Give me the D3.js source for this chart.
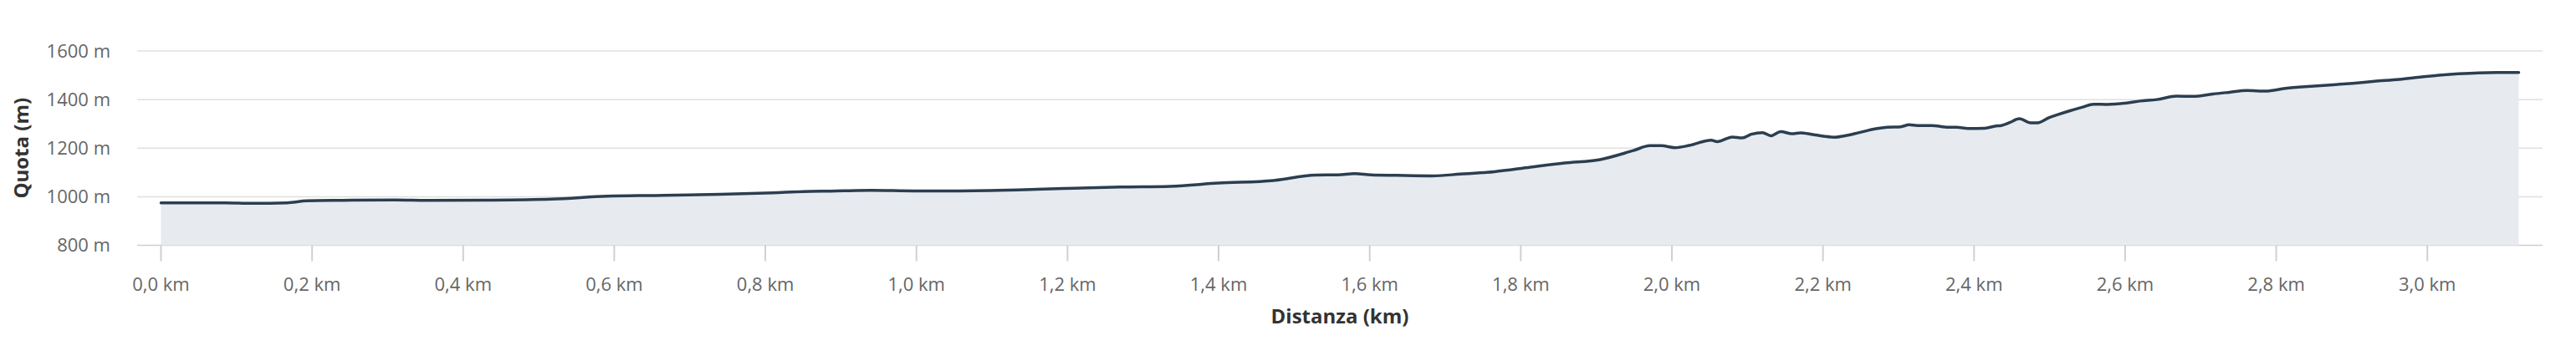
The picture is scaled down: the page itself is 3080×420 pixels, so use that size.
<!DOCTYPE html>
<html>
<head>
<meta charset="utf-8">
<script src="https://cdn.jsdelivr.net/npm/d3@7"></script>
<style>
  html, body { margin: 0; padding: 0; background: #fff; }
  svg { display: block; }
  text { font-family: "Open Sans", "Noto Sans", sans-serif; }
</style>
</head>
<body>
<svg id="chart" width="3080" height="420"></svg>
<script>
// Distance along the route (km)
const distanceKm = [
  0.000, 0.085, 0.120, 0.167, 0.193, 0.240, 0.310, 0.355, 0.430, 0.517,
  0.590, 0.665, 0.740, 0.810, 0.850, 0.886, 0.940, 0.997, 1.049,
  1.134, 1.196, 1.270, 1.336, 1.400, 1.473, 1.528, 1.558, 1.580,
  1.602, 1.636, 1.683, 1.720, 1.765, 1.813, 1.858, 1.905, 1.949, 1.971, 1.986,
  2.004, 2.023, 2.052, 2.060, 2.080, 2.093, 2.105, 2.120, 2.131, 2.144,
  2.159, 2.170, 2.185, 2.203, 2.216, 2.229, 2.248, 2.270, 2.285, 2.303,
  2.314, 2.325, 2.344, 2.366, 2.377, 2.392, 2.414, 2.429, 2.436, 2.447,
  2.460, 2.475, 2.484, 2.499, 2.510, 2.528, 2.543, 2.558, 2.576, 2.602,
  2.620, 2.642, 2.668, 2.690, 2.716, 2.738, 2.761, 2.786, 2.812, 2.842,
  2.871, 2.901, 2.930, 2.963, 2.993, 3.019, 3.041, 3.067, 3.092, 3.121
];
// Elevation (m)
const elevationM = [
  975, 975, 973, 975, 983, 985, 987, 985, 986, 990,
  1002, 1006, 1010, 1016, 1021, 1023, 1026, 1024, 1024,
  1028, 1034, 1040, 1043, 1056, 1067, 1089, 1090, 1095,
  1090, 1088, 1086, 1093, 1103, 1122, 1139, 1153, 1190, 1210, 1210,
  1202, 1211, 1233, 1227, 1246, 1242, 1257, 1264, 1251, 1268,
  1259, 1263, 1257, 1248, 1245, 1251, 1264, 1280, 1286, 1288,
  1296, 1293, 1293, 1286, 1286, 1281, 1282, 1291, 1293, 1305,
  1321, 1304, 1304, 1325, 1337, 1355, 1368, 1381, 1380, 1386,
  1394, 1400, 1414, 1413, 1423, 1430, 1437, 1435, 1446, 1454,
  1460, 1467, 1475, 1483, 1493, 1501, 1506, 1510, 1511, 1511
];
// Axis ticks
const yTicks = [800, 1000, 1200, 1400, 1600];
const xTicks = [0, 0.2, 0.4, 0.6, 0.8, 1.0, 1.2, 1.4, 1.6, 1.8, 2.0, 2.2, 2.4, 2.6, 2.8, 3.0];
const xTitle = "Distanza (km)";
const yTitle = "Quota (m)";

(function () {
  const data = distanceKm.map((d, i) => ({ x: d, y: elevationM[i] }));

  const svg = d3.select("#chart");
  const mLeft = 164, mRight = 3040, mTop = 61, mBottom = 293.5;
  const pad = (d3.max(distanceKm) - d3.min(distanceKm)) * 0.0101;

  const x = d3.scaleLinear()
    .domain([d3.min(distanceKm) - pad, d3.max(distanceKm) + pad])
    .range([mLeft, mRight]);
  const y = d3.scaleLinear().domain([800, 1600]).range([mBottom, mTop]);

  const fmtKm = d => d.toFixed(1).replace(".", ",") + " km";

  // horizontal grid
  svg.append("g").selectAll("line").data(yTicks).join("line")
    .attr("x1", mLeft).attr("x2", mRight)
    .attr("y1", d => y(d)).attr("y2", d => y(d))
    .attr("stroke", d => d === 800 ? "#cfcfcf" : "#e0e0e0")
    .attr("stroke-width", 1.5);

  // y tick labels
  svg.append("g").selectAll("text").data(yTicks).join("text")
    .attr("x", 132).attr("y", d => y(d)).attr("dy", "0.36em")
    .attr("text-anchor", "end")
    .attr("font-size", 22).attr("fill", "#666")
    .text(d => d + " m");

  // area + line
  const area = d3.area().x(d => x(d.x)).y0(y(800)).y1(d => y(d.y)).curve(d3.curveMonotoneX);
  const line = d3.line().x(d => x(d.x)).y(d => y(d.y)).curve(d3.curveMonotoneX);

  svg.append("path").datum(data).attr("d", area).attr("fill", "#e7ebef");
  svg.append("path").datum(data).attr("d", line)
    .attr("fill", "none").attr("stroke", "#2c3e50").attr("stroke-width", 3.5)
    .attr("stroke-linejoin", "round").attr("stroke-linecap", "round");

  // x axis ticks
  const xAxis = svg.append("g");
  xAxis.selectAll("line").data(xTicks).join("line")
    .attr("x1", d => x(d)).attr("x2", d => x(d))
    .attr("y1", mBottom).attr("y2", mBottom + 19)
    .attr("stroke", "#d0d0d0").attr("stroke-width", 2);
  xAxis.selectAll("text").data(xTicks).join("text")
    .attr("x", d => x(d)).attr("y", 348)
    .attr("text-anchor", "middle")
    .attr("font-size", 22).attr("fill", "#666")
    .text(fmtKm);

  // axis titles
  svg.append("text")
    .attr("x", (mLeft + mRight) / 2).attr("y", 387)
    .attr("text-anchor", "middle")
    .attr("font-size", 24).attr("font-weight", "bold").attr("fill", "#333")
    .text(xTitle);

  svg.append("text")
    .attr("transform", `translate(34,${(mTop + mBottom) / 2}) rotate(-90)`)
    .attr("text-anchor", "middle")
    .attr("font-size", 24).attr("font-weight", "bold").attr("fill", "#333")
    .text(yTitle);
})();
</script>
</body>
</html>
